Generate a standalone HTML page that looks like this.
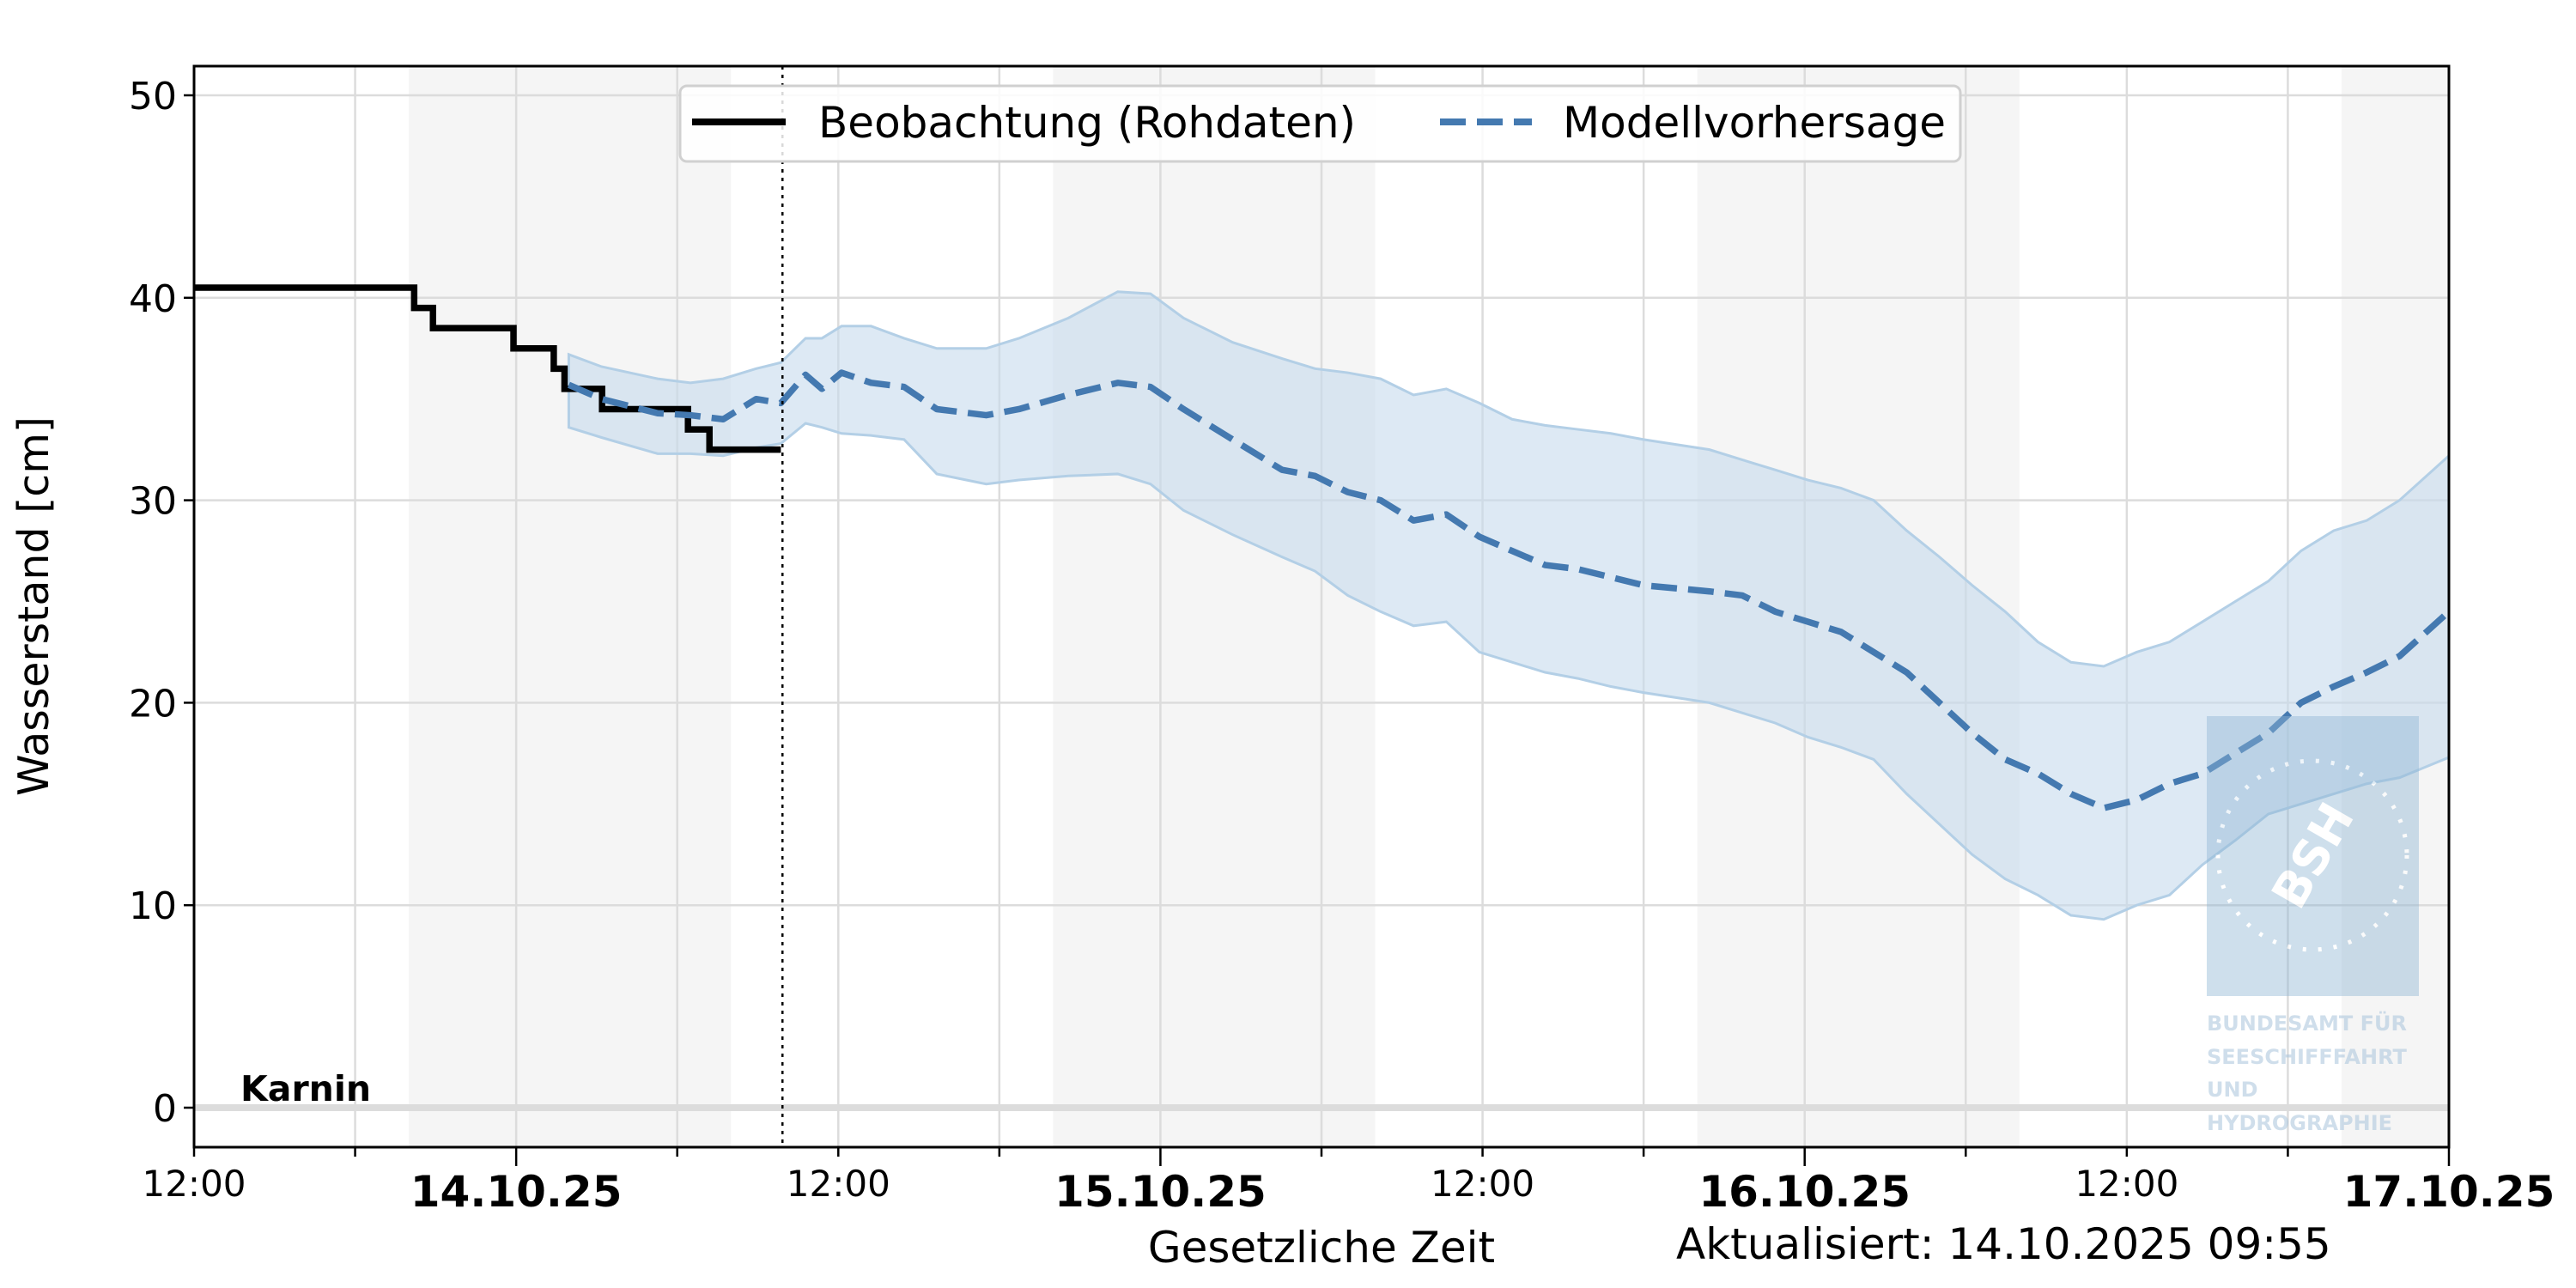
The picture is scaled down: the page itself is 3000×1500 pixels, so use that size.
<!DOCTYPE html>
<html><head><meta charset="utf-8">
<style>
html,body{margin:0;padding:0;background:#fff;}
svg{display:block;font-family:"DejaVu Sans","Liberation Sans",sans-serif;}
</style></head>
<body>
<svg id="chart" width="3000" height="1500" viewBox="0 0 3000 1500" xmlns="http://www.w3.org/2000/svg">
  <g id="bands"></g>
  <g id="grid"></g>
  <line x1="226" x2="2852" y1="1290" y2="1290" stroke="#dcdcdc" stroke-width="8"/>
  <g id="series"></g>
  <g id="logo" opacity="0.55">
    <rect x="2570" y="834" width="247" height="326" fill="#8fb5d3" opacity="0.8"/>
    <circle cx="2693" cy="996" r="110" fill="none" stroke="#fff" stroke-width="5" stroke-dasharray="4 14"/>
    <text x="2693" y="1016" text-anchor="middle" fill="#fff" font-size="56" font-weight="bold" transform="rotate(-60 2693 996)">BSH</text>
    <g fill="#a9c4dc" font-size="24" font-weight="bold">
      <text x="2570" y="1200">BUNDESAMT FÜR</text>
      <text x="2570" y="1239">SEESCHIFFFAHRT</text>
      <text x="2570" y="1277">UND</text>
      <text x="2570" y="1316">HYDROGRAPHIE</text>
    </g>
  </g>
  <line id="nowline" y1="77" y2="1336" stroke="#000" stroke-width="2.5" stroke-dasharray="4 6"/>
  <rect x="226" y="77" width="2626" height="1259" fill="none" stroke="#000" stroke-width="3"/>
  <g id="axes"></g>
  <text x="280" y="1282" font-size="41" font-weight="bold">Karnin</text>
  <text x="0" y="0" font-size="49" text-anchor="middle" transform="translate(56 706) rotate(-90)">Wasserstand [cm]</text>
  <text x="1539" y="1470" font-size="50" text-anchor="middle">Gesetzliche Zeit</text>
  <text x="1952" y="1466" font-size="50">Aktualisiert: 14.10.2025 09:55</text>
  <g>
    <rect x="792" y="100" width="1491" height="88" rx="8" fill="#fff" fill-opacity="0.85" stroke="#d0d0d0" stroke-width="3"/>
    <line x1="806" x2="915" y1="142" y2="142" stroke="#000" stroke-width="8"/>
    <text x="953" y="160" font-size="50">Beobachtung (Rohdaten)</text>
    <line x1="1677" x2="1784" y1="142" y2="142" stroke="#4479b0" stroke-width="8" stroke-dasharray="30 13"/>
    <text x="1820" y="160" font-size="50">Modellvorhersage</text>
  </g>
</svg>
<script>
// hours since 13.10.25 12:00
const obsTimes = [0, 8.2, 8.9, 11.9, 13.4, 13.8, 15.2, 18.4, 19.2, 21.86];
const obsValues = [40.5, 39.5, 38.5, 37.5, 36.5, 35.5, 34.5, 33.5, 32.5, 32.5];
const fcTimes = [13.96,15.18,17.27,18.49,19.71,20.94,21.86,22.78,23.39,24.12,25.22,26.45,27.67,29.51,30.73,32.57,34.41,35.63,36.86,38.69,40.53,41.76,42.98,44.2,45.43,46.65,47.88,49.1,50.33,51.55,52.78,54,56.45,57.67,58.9,60.12,61.35,62.57,63.8,65.02,66.24,67.47,68.69,69.92,71.14,72.37,73.59,74.82,76.04,77.27,78.49,79.71,80.94,82.16,84];
const fcValues = [35.7,35,34.3,34.2,34,35,34.8,36.2,35.5,36.3,35.8,35.6,34.5,34.2,34.5,35.2,35.8,35.6,34.5,33,31.5,31.2,30.4,30,29,29.3,28.2,27.5,26.8,26.6,26.2,25.8,25.5,25.3,24.5,24,23.5,22.5,21.5,20,18.5,17.2,16.5,15.5,14.8,15.2,16,16.5,17.5,18.5,20,20.8,21.5,22.3,24.5];
const fcUpper = [37.2,36.6,36,35.8,36,36.5,36.8,38,38,38.6,38.6,38,37.5,37.5,38,39,40.3,40.2,39,37.8,37,36.5,36.3,36,35.2,35.5,34.8,34,33.7,33.5,33.3,33,32.5,32,31.5,31,30.6,30,28.5,27.2,25.8,24.5,23,22,21.8,22.5,23,24,25,26,27.5,28.5,29,30,32.2];
const fcLower = [33.6,33.1,32.3,32.3,32.2,32.6,32.8,33.8,33.6,33.3,33.2,33,31.3,30.8,31,31.2,31.3,30.8,29.5,28.3,27.2,26.5,25.3,24.5,23.8,24,22.5,22,21.5,21.2,20.8,20.5,20,19.5,19,18.3,17.8,17.2,15.5,14,12.5,11.3,10.5,9.5,9.3,10,10.5,12,13.2,14.5,15,15.5,16,16.3,17.3];
const yTicks = [0, 10, 20, 30, 40, 50];
const nowTime = 21.92;
const nightStarts = [8, 32, 56, 80];
const dateLabels = ["14.10.25", "15.10.25", "16.10.25", "17.10.25"];

const NS = "http://www.w3.org/2000/svg";
const X0 = 226, X1 = 2852, TMAX = 84, YT = 77, YB = 1336;
const x = t => X0 + (X1 - X0) * t / TMAX;
const y = v => 1290 - v * 23.58;
function mk(tag, attrs, parent) {
  const e = document.createElementNS(NS, tag);
  for (const k in attrs) e.setAttribute(k, attrs[k]);
  parent.appendChild(e);
  return e;
}
const bands = document.getElementById('bands');
nightStarts.forEach(s => {
  const r = mk('rect', {x: x(s), y: YT, width: Math.min(x(s + 12), X1) - x(s), height: YB - YT, fill: '#f5f5f5'}, bands);
  
  
});
const grid = document.getElementById('grid');
const axes = document.getElementById('axes');
for (let t = 0; t <= TMAX; t += 6) {
  const gl = mk('line', {x1: x(t), x2: x(t), y1: YT, y2: YB, stroke: '#dcdcdc', 'stroke-width': 2.5}, grid);
  
  
  const major = (t % 24) === 12;
  const tk = mk('line', {x1: x(t), x2: x(t), y1: YB, y2: major ? YB + 22 : YB + 11, stroke: '#000', 'stroke-width': 2.5}, axes);
  
  
  if (t % 24 === 0) {
    const lb = mk('text', {x: x(t), y: 1393, 'font-size': 42, 'text-anchor': 'middle'}, axes);
    lb.textContent = '12:00';
    
    
  } else if (major) {
    const lb = mk('text', {x: x(t), y: 1405, 'font-size': 50, 'font-weight': 'bold', 'text-anchor': 'middle'}, axes);
    lb.textContent = dateLabels[(t - 12) / 24];
    
    
  }
}
yTicks.forEach(v => {
  if (v > 0) {
    const gl = mk('line', {x1: X0, x2: X1, y1: y(v), y2: y(v), stroke: '#dcdcdc', 'stroke-width': 2.5}, grid);
    
    
  }
  const tk = mk('line', {x1: X0 - 12, x2: X0, y1: y(v), y2: y(v), stroke: '#000', 'stroke-width': 2.5}, axes);
  
  
  const lb = mk('text', {x: X0 - 20, y: y(v) + 16, 'font-size': 44, 'text-anchor': 'end'}, axes);
  lb.textContent = String(v);
  
  
});
document.getElementById('nowline').setAttribute('x1', x(nowTime));
document.getElementById('nowline').setAttribute('x2', x(nowTime));

const series = document.getElementById('series');
let d = fcTimes.map((t, i) => (i ? 'L' : 'M') + x(t) + ' ' + y(fcUpper[i])).join(' ');
for (let i = fcTimes.length - 1; i >= 0; i--) d += ' L' + x(fcTimes[i]) + ' ' + y(fcLower[i]);
const band = mk('path', {d: d + ' Z', fill: '#c6dbed', 'fill-opacity': 0.6, stroke: '#b3cfe6', 'stroke-width': 3}, series);



let od = 'M' + x(obsTimes[0]) + ' ' + y(obsValues[0]);
for (let i = 1; i < obsTimes.length; i++) {
  od += ' L' + x(obsTimes[i]) + ' ' + y(obsValues[i - 1]) + ' L' + x(obsTimes[i]) + ' ' + y(obsValues[i]);
}
const obs = mk('path', {d: od, fill: 'none', stroke: '#000', 'stroke-width': 7.5, 'stroke-linejoin': 'miter'}, series);



const fd = fcTimes.map((t, i) => (i ? 'L' : 'M') + x(t) + ' ' + y(fcValues[i])).join(' ');
const fc = mk('path', {d: fd, fill: 'none', stroke: '#4479b0', 'stroke-width': 7.5, 'stroke-dasharray': '30 13', 'stroke-linejoin': 'round'}, series);


</script>
</body></html>
